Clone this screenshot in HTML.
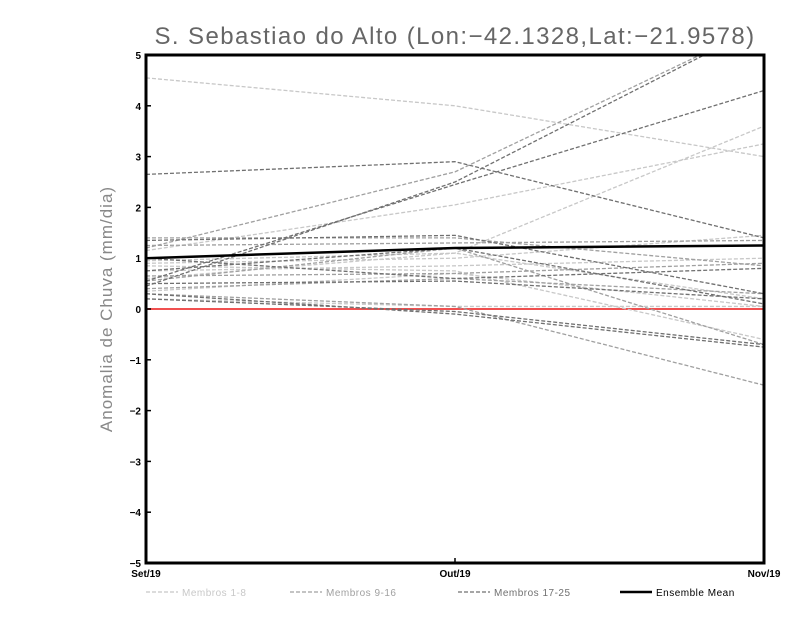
<!DOCTYPE html>
<html><head><meta charset="utf-8"><style>
body{margin:0;background:#fff;}
svg{display:block;font-family:"Liberation Sans",sans-serif;}
</style></head><body>
<svg id="c" width="800" height="618">
<defs><clipPath id="pc"><rect x="146" y="55" width="618" height="508"/></clipPath></defs>
<text x="455" y="44" text-anchor="middle" font-size="24" fill="#666" letter-spacing="1.4">S. Sebastiao do Alto (Lon:−42.1328,Lat:−21.9578)</text>
<text transform="translate(112,309) rotate(-90)" text-anchor="middle" font-size="17" fill="#888" letter-spacing="1">Anomalia de Chuva (mm/dia)</text>
<g id="lines" clip-path="url(#pc)"></g>
<g id="axes"></g>
</svg>
<script>
const categories=["Set/19","Out/19","Nov/19"];
const yTicks=[5,4,3,2,1,0,-1,-2,-3,-4,-5];
const light=[[4.55,4.0,3.0],[1.15,2.05,3.25],[0.9,1.0,1.45],[0.75,0.85,1.0],[0.6,1.1,0.2],[0.85,0.75,-0.6],[0.35,0.7,0.05],[0.2,0.05,0.05],[0.95,1.1,3.6]];
const mid=[[1.2,2.7,5.6],[1.25,1.3,1.35],[0.3,0.05,-1.5],[0.55,1.2,-0.7],[1.4,1.4,0.85],[0.65,0.7,0.9],[0.4,0.6,0.3]];
const dark=[[2.65,2.9,1.4],[0.55,2.45,4.3],[0.45,2.5,5.6],[1.35,1.45,0.3],[1.0,0.6,0.8],[0.3,-0.1,-0.75],[0.2,-0.05,-0.7],[0.5,0.55,0.2],[0.75,1.2,0.1]];
const ensembleMean=[1.0,1.2,1.25];
const legendLabels=["Membros 1-8","Membros 9-16","Membros 17-25","Ensemble Mean"];
const NS="http://www.w3.org/2000/svg";
const X0=146,X1=764,Y0=563,Y1=55;
function xs(i){return X0+(X1-X0)*i/(categories.length-1);}
function ys(v){return Y0-(v+5)/10*(Y0-Y1);}
function mk(t,a,p){const e=document.createElementNS(NS,t);for(const k in a)e.setAttribute(k,a[k]);p.appendChild(e);return e;}
const L=document.getElementById('lines'),A=document.getElementById('axes');
function pts(s){return s.map((v,i)=>xs(i)+','+ys(v)).join(' ');}
const zl=mk('line',{x1:X0,x2:X1,y1:ys(0),y2:ys(0),stroke:'#f05050','stroke-width':2},L);


[[light,'#c8c8c8','members-1-8'],[mid,'#a0a0a0','members-9-16'],[dark,'#707070','members-17-25']].forEach(([g,c,n])=>{g.forEach((s,j)=>{
const p=mk('polyline',{points:pts(s),fill:'none',stroke:c,'stroke-width':1.3,'stroke-dasharray':'4,2'},L);

});});
const m=mk('polyline',{points:pts(ensembleMean),fill:'none',stroke:'#000','stroke-width':2.5},L);


const fr=mk('rect',{x:X0,y:Y1,width:X1-X0,height:Y0-Y1,fill:'none',stroke:'#000','stroke-width':3},A);


yTicks.forEach(v=>{mk('line',{x1:X0,x2:X0+5,y1:ys(v),y2:ys(v),stroke:'#000','stroke-width':1.5},A);
const t=mk('text',{x:X0-5,y:ys(v)+4,'text-anchor':'end','font-size':10,'font-weight':'bold'},A);t.textContent=v<0?'−'+(-v):v;

});
categories.forEach((c,i)=>{mk('line',{x1:xs(i),x2:xs(i),y1:Y0,y2:Y0-5,stroke:'#000','stroke-width':1.5},A);
const t=mk('text',{x:xs(i),y:Y0+14,'text-anchor':'middle','font-size':10,'font-weight':'bold'},A);t.textContent=c;

});
const lc=[['#c8c8c8',1.3,'4,2',146],['#a0a0a0',1.3,'4,2',290],['#707070',1.3,'4,2',458],['#000',2.5,'',620]];
legendLabels.forEach((l,i)=>{const [c,w,d,x]=lc[i];
const g=mk('g',{},A);


mk('line',{x1:x,x2:x+32,y1:592,y2:592,stroke:c,'stroke-width':w,'stroke-dasharray':d},g);
const t=mk('text',{x:x+36,y:596,'font-size':10,fill:i==3?'#000':c,'letter-spacing':0.5},g);t.textContent=l;});
</script>
</body></html>
